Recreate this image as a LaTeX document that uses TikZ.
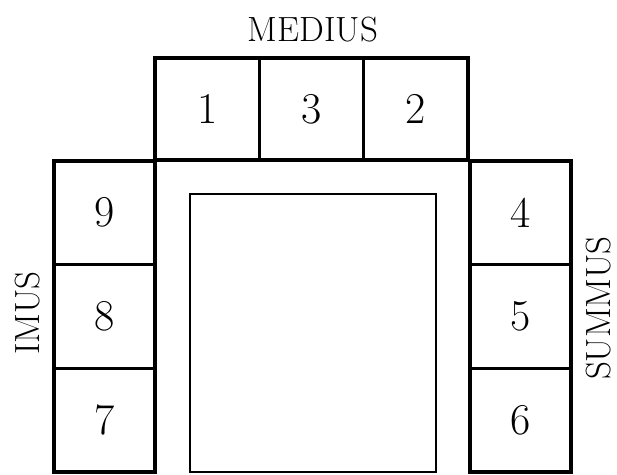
\documentclass[tikz,border=0pt]{standalone}
\newcommand{\numfont}{\fontsize{44}{44}\selectfont}
\newcommand{\capfont}{\fontsize{35}{35}\selectfont}
\begin{document}
\begin{tikzpicture}[x=1pt,y=-1pt,
    seat/.style={draw,line width=3.2pt,minimum width=104.3pt,minimum height=102pt,inner sep=0pt,font=\numfont},
    sideseat/.style={seat,minimum width=101pt,minimum height=103.7pt},
    couch/.style={font=\capfont,inner sep=0pt}]
  \useasboundingbox (0,0) rectangle (617,474);
  % lectus medius
  \node[seat] (l1) at (207.2,109) {1};
  \node[seat] (l3) at (311.5,109) {3};
  \node[seat] (l2) at (415.8,109) {2};
  \node[couch] (medius) at (313,30) {MEDIUS};
  % lectus imus
  \node[sideseat] (l9) at (104.5,212.8) {9};
  \node[sideseat] (l8) at (104.5,316.5) {8};
  \node[sideseat] (l7) at (104.5,420.2) {7};
  \node[couch,rotate=90] (imus) at (28,313) {IMUS};
  % lectus summus
  \node[sideseat] (l4) at (520.5,212.8) {4};
  \node[sideseat] (l5) at (520.5,316.5) {5};
  \node[sideseat] (l6) at (520.5,420.2) {6};
  \node[couch,rotate=90] (summus) at (599,308) {SUMMUS};
  % mensa
  \node[draw,line width=1.8pt,minimum width=246pt,minimum height=278pt] (mensa) at (313,333) {};
\end{tikzpicture}
\end{document}
